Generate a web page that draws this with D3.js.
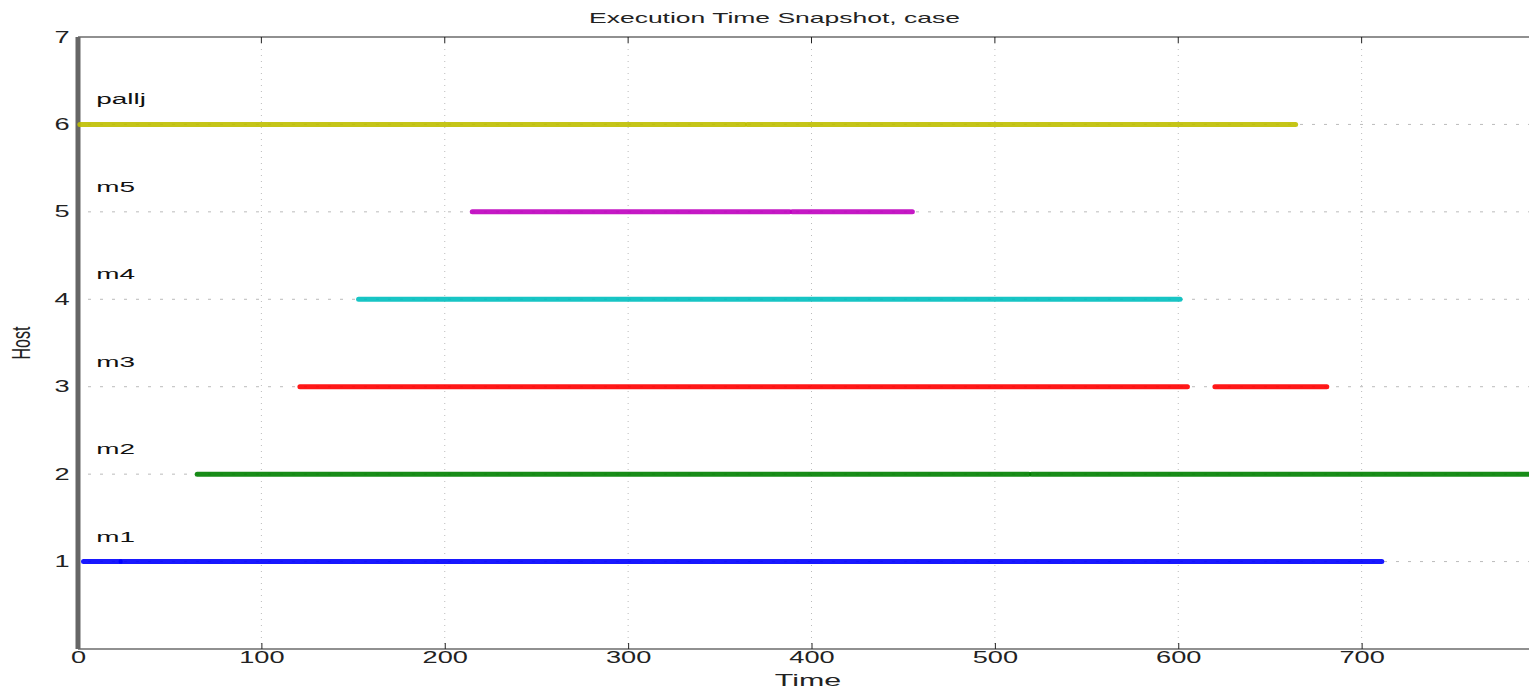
<!DOCTYPE html>
<html>
<head>
<meta charset="utf-8">
<script src="https://cdn.jsdelivr.net/npm/d3@7"></script>
<style>
  body { margin: 0; background: #fff; }
  svg { display: block; font-family: "Liberation Sans", Arial, sans-serif; }
</style>
</head>
<body>
<svg id="chart" width="1529" height="690"></svg>
<script>
// hosts (bottom to top)
const hosts = ["m1", "m2", "m3", "m4", "m5", "pallj"];
const hostColors = ["#0000ff", "#008000", "#ff0000", "#00bfbf", "#bf00bf", "#bfbf00"];
// busy intervals per host [start, end]
const m1Segs = [[3, 23], [23.5, 711]];
const m2Segs = [[65, 518.5], [520, 800]];
const m3Segs = [[121, 605], [620, 681]];
const m4Segs = [[153, 601]];
const m5Segs = [[215, 388], [389.5, 455]];
const palljSegs = [[1, 363.5], [365, 664]];
const xTicks = [0, 100, 200, 300, 400, 500, 600, 700];
const yTicks = [1, 2, 3, 4, 5, 6, 7];

const segs = [m1Segs, m2Segs, m3Segs, m4Segs, m5Segs, palljSegs];

const svg = d3.select("#chart");
const mLeft = 78, mRight = 1545, mTop = 37, mBottom = 649;
const sx = 1.7;   // the picture's text is stretched sideways

const x = d3.scaleLinear().domain([0, 800]).range([mLeft, mRight]);
const y = d3.scaleLinear().domain([0, 7]).range([mBottom, mTop]);

// dotted grid
svg.append("g").selectAll("line")
  .data(xTicks.filter(d => d > 0))
  .join("line")
  .attr("x1", d => x(d)).attr("x2", d => x(d))
  .attr("y1", mTop).attr("y2", mBottom)
  .attr("stroke", "#bbb").attr("stroke-width", 1)
  .attr("stroke-dasharray", "1,5");

svg.append("g").selectAll("line")
  .data(yTicks.filter(d => d < 7))
  .join("line")
  .attr("x1", mLeft + 10).attr("x2", mRight)
  .attr("y1", d => y(d)).attr("y2", d => y(d))
  .attr("stroke", "#bbb").attr("stroke-width", 1)
  .attr("stroke-dasharray", "3,9");

// top border with inward ticks
svg.append("line")
  .attr("x1", mLeft).attr("x2", mRight).attr("y1", mTop).attr("y2", mTop)
  .attr("stroke", "#222").attr("stroke-width", 1.2);
svg.append("g").selectAll("line")
  .data(xTicks)
  .join("line")
  .attr("x1", d => x(d)).attr("x2", d => x(d))
  .attr("y1", mTop).attr("y2", mTop + 6)
  .attr("stroke", "#222");

// bottom axis
const xAxis = d3.axisBottom(x).tickValues(xTicks).tickSize(-6).tickPadding(3).tickSizeOuter(0);
const gx = svg.append("g").attr("transform", `translate(0,${mBottom})`).call(xAxis);
gx.select(".domain").attr("stroke", "#222").attr("stroke-width", 1.2)
  .attr("d", `M${mLeft},0H${mRight}`);
gx.selectAll(".tick line").attr("stroke", "#222");
gx.selectAll("text").attr("font-size", 16).attr("fill", "#222")
  .attr("font-family", "Liberation Sans, Arial, sans-serif")
  .attr("transform", `scale(${sx},1)`);

// left axis
const yAxis = d3.axisLeft(y).tickValues(yTicks).tickSize(0).tickPadding(5)
  .tickFormat(d3.format("d"));
const gy = svg.append("g").attr("transform", `translate(${mLeft},0)`).call(yAxis);
gy.select(".domain").remove();
gy.selectAll("text").attr("font-size", 16).attr("fill", "#222")
  .attr("font-family", "Liberation Sans, Arial, sans-serif")
  .attr("transform", `scale(${sx},1)`);
svg.append("line")
  .attr("x1", mLeft).attr("x2", mLeft).attr("y1", mTop).attr("y2", mBottom)
  .attr("stroke", "#666").attr("stroke-width", 5);

// busy segments
hosts.forEach((h, i) => {
  const row = i + 1;
  svg.append("g").selectAll("line")
    .data(segs[i])
    .join("line")
    .attr("x1", d => x(d[0])).attr("x2", d => x(d[1]))
    .attr("y1", y(row)).attr("y2", y(row))
    .attr("stroke", hostColors[i]).attr("stroke-width", 5)
    .attr("stroke-linecap", "round")
    .attr("opacity", 0.9);

  svg.append("text")
    .attr("x", x(10) / 1.8).attr("y", y(row) - 20)
    .attr("transform", "scale(1.8,1)")
    .attr("font-size", 15.5).attr("fill", "#111")
    .text(h);
});

// titles
svg.append("text")
  .attr("x", 589).attr("y", 23)
  .attr("textLength", 371).attr("lengthAdjust", "spacingAndGlyphs")
  .attr("font-size", 15).attr("fill", "#222")
  .text("Execution Time Snapshot, case");

svg.append("text")
  .attr("x", 808 / 1.9).attr("y", 686)
  .attr("transform", "scale(1.9,1)")
  .attr("text-anchor", "middle").attr("font-size", 16).attr("fill", "#222")
  .text("Time");

// rotated label: stretch across its height so it reads wide on screen
svg.append("text")
  .attr("transform", `translate(30,${y(3.5)}) rotate(-90) scale(1,1.6)`)
  .attr("text-anchor", "middle").attr("font-size", 16).attr("fill", "#222")
  .text("Host");
</script>
</body>
</html>
